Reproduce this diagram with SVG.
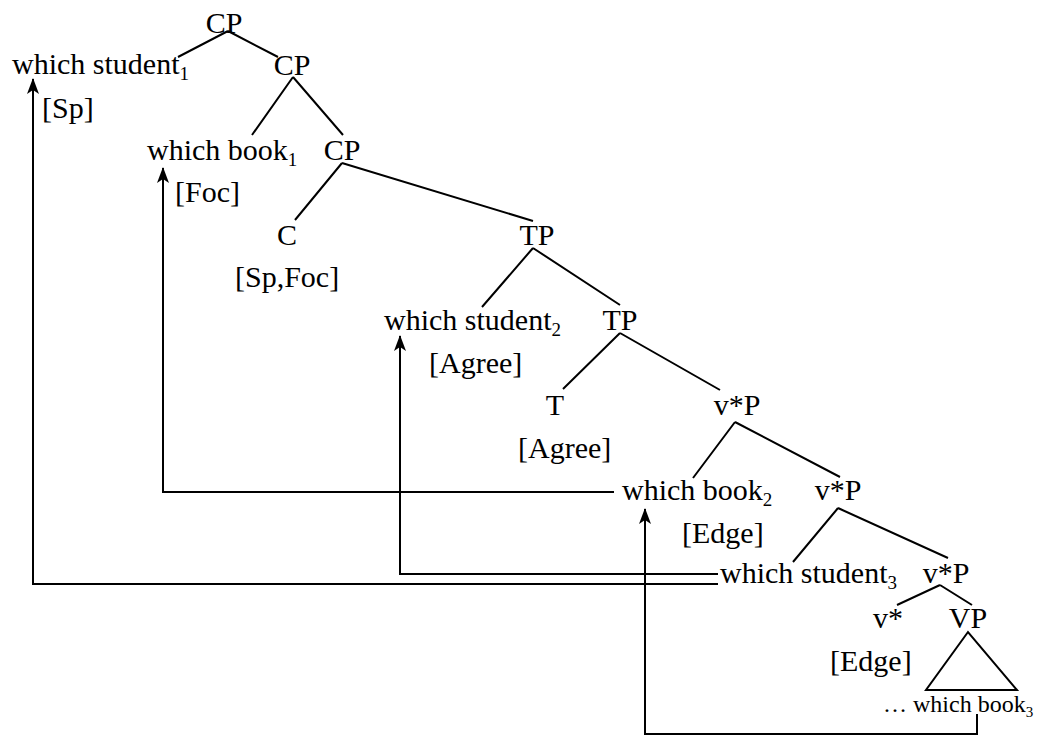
<svg xmlns="http://www.w3.org/2000/svg" width="1048" height="736" viewBox="0 0 1048 736">
  <style>
    text { font-family: 'Liberation Serif', 'DejaVu Serif', serif; font-size: 30px; fill: #000; }
    .mid { text-anchor: middle; }
    .sub { font-size: 19px; }
    .small { font-size: 24px; }
    .small .sub { font-size: 15px; }
    .edge { stroke: #000; stroke-width: 2; fill: none; }
    .move { stroke: #000; stroke-width: 2; fill: none; marker-end: url(#head); }
  </style>
  <defs>
    <marker id="head" markerUnits="userSpaceOnUse" markerWidth="18" markerHeight="16" viewBox="-16 -8 18 16" refX="0" refY="0" orient="auto">
      <path d="M1,0 L-15,-6 L-11,0 L-15,6 Z" fill="#000"/>
    </marker>
  </defs>

  <rect width="1048" height="736" fill="#fff"/>

  <!-- tree branches and movement arrows -->
  <g id="connectors">
    <path class="edge" d="M228 31 L178 57 M228 31 L278 57"/>
    <path class="edge" d="M293 77 L252 135 M293 77 L343 135"/>
    <path class="edge" d="M342 163 L295 220 M342 163 L533 221"/>
    <path class="edge" d="M533 248 L482 307 M533 248 L620 305"/>
    <path class="edge" d="M620 333 L563 389 M620 333 L720 390"/>
    <path class="edge" d="M735 422 L693 478 M735 422 L840 477"/>
    <path class="edge" d="M838 508 L793 562 M838 508 L948 558"/>
    <path class="edge" d="M940 585 L897 605 M940 585 L972 605"/>
    <path class="edge" d="M968 632 L926 690 L1017 690 Z"/>

    <path class="move" d="M718 584 H33 V79"/>
    <path class="move" d="M718 574 H400 V336"/>
    <path class="move" d="M614 492 H163 V168"/>
    <path class="move" d="M977 714 V734 H645 V509"/>
  </g>

  <g id="labels" font-family="Liberation Serif, serif">
    <g id="cp1"><text class="mid" x="224" y="33">CP</text></g>
    <g id="which-student-1">
      <text x="12" y="74">which student<tspan class="sub" dy="6">1</tspan></text>
      <text x="42" y="118">[Sp]</text>
    </g>
    <g id="cp2"><text class="mid" x="292" y="75">CP</text></g>
    <g id="which-book-1">
      <text x="147" y="160">which book<tspan class="sub" dy="6">1</tspan></text>
      <text x="175" y="202">[Foc]</text>
    </g>
    <g id="cp3"><text class="mid" x="342" y="160">CP</text></g>
    <g id="c">
      <text class="mid" x="287" y="245">C</text>
      <text x="235" y="287">[Sp,Foc]</text>
    </g>
    <g id="tp1"><text class="mid" x="537" y="245">TP</text></g>
    <g id="which-student-2">
      <text x="384" y="330">which student<tspan class="sub" dy="6">2</tspan></text>
      <text x="429" y="373">[Agree]</text>
    </g>
    <g id="tp2"><text class="mid" x="620" y="330">TP</text></g>
    <g id="t">
      <text class="mid" x="555" y="415">T</text>
      <text x="518" y="458">[Agree]</text>
    </g>
    <g id="vp1"><text class="mid" x="737" y="415">v*P</text></g>
    <g id="which-book-2">
      <text x="622" y="500">which book<tspan class="sub" dy="6">2</tspan></text>
      <text x="682" y="543">[Edge]</text>
    </g>
    <g id="vp2"><text class="mid" x="838" y="500">v*P</text></g>
    <g id="which-student-3">
      <text x="720" y="583">which student<tspan class="sub" dy="6">3</tspan></text>
    </g>
    <g id="vp3"><text class="mid" x="946" y="583">v*P</text></g>
    <g id="v">
      <text class="mid" x="888" y="628">v*</text>
      <text x="830" y="671">[Edge]</text>
    </g>
    <g id="vp"><text class="mid" x="968" y="628">VP</text></g>
    <g id="which-book-3">
      <text class="small" x="883" y="712">… which book<tspan class="sub" dy="5">3</tspan></text>
    </g>
  </g>
</svg>
